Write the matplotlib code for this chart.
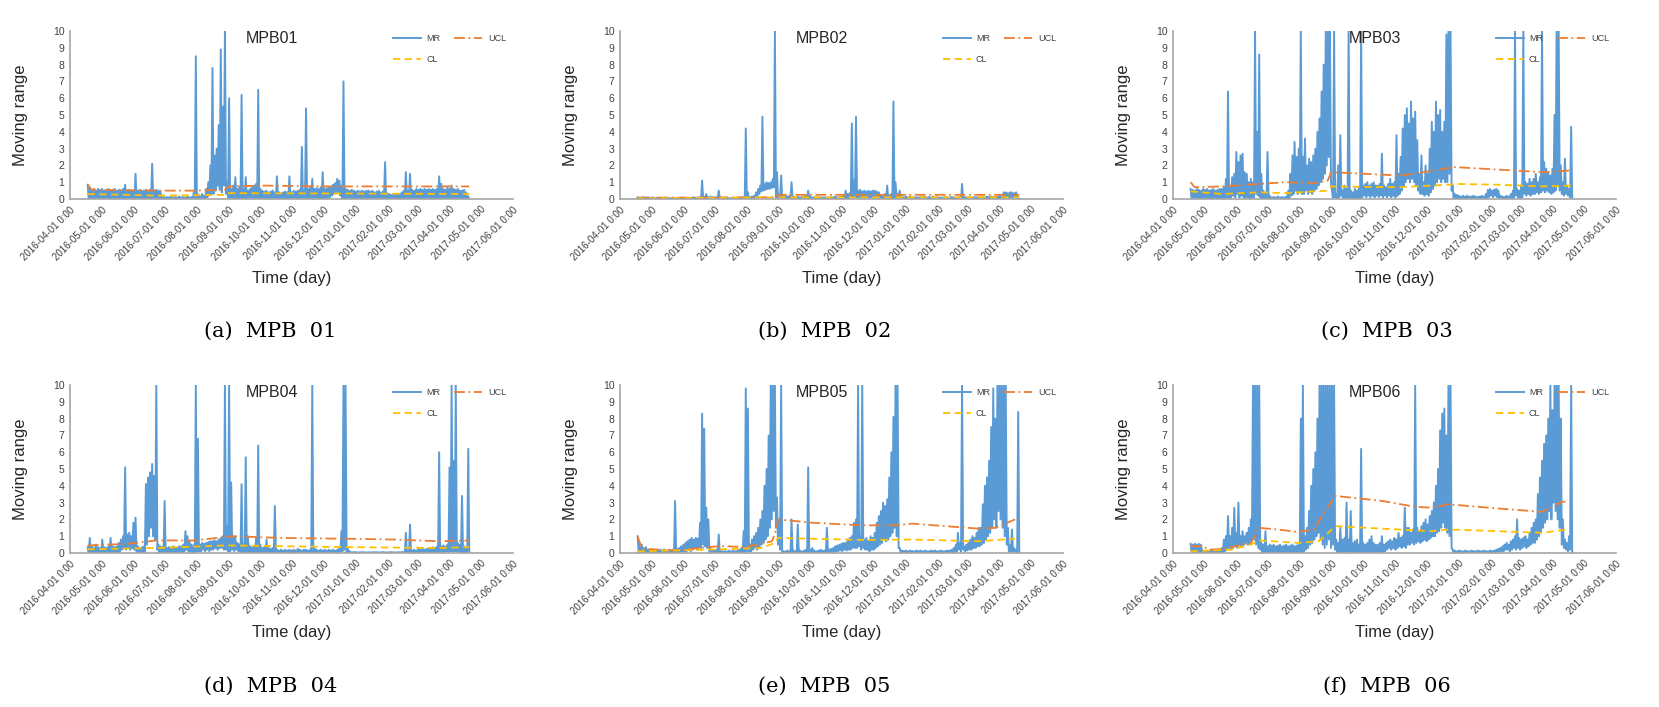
import numpy as np
import matplotlib
matplotlib.use('Agg')
import matplotlib.pyplot as plt

plt.rcParams['font.family'] = ['Liberation Sans', 'DejaVu Sans']

# x axis: month starts, Excel style labels
month_starts = ['2016-04-01', '2016-05-01', '2016-06-01', '2016-07-01', '2016-08-01',
                '2016-09-01', '2016-10-01', '2016-11-01', '2016-12-01', '2017-01-01',
                '2017-02-01', '2017-03-01', '2017-04-01', '2017-05-01', '2017-06-01']
tick_labels = [d + ' 0:00' for d in month_starts]

# MR read in 2-day bins from 2016-04-18: upper value of the bin, then lower value
mr_start = '2016-04-18'

mr_hi_a = [0.85,0.6,0.55,0.6,0.5,0.6,0.55,0.6,0.5,0.55,0.6,0.5,0.55,0.6,0.5,
           0.55,0.5,0.6,0.85,0.5,0.55,0.5,0.5,1.5,0.5,0.55,0.5,0.5,0.55,0.5,
           0.55,2.1,0.5,0.55,0.5,0.45,0.15,0.1,0.12,0.1,0.15,0.1,0.12,0.1,0.15,
           0.1,0.12,0.1,0.15,0.1,0.12,0.4,8.5,0.3,0.15,0.3,0.2,0.6,1.0,2.0,
           7.8,2.6,3.0,4.4,8.9,5.5,10,1.0,6.0,0.6,0.8,1.3,0.6,0.7,6.2,
           0.6,1.3,0.5,0.6,0.7,0.8,0.9,6.5,0.6,0.5,0.45,0.5,0.4,0.45,0.5,
           0.4,1.35,0.4,0.35,0.4,0.45,0.4,1.35,0.4,0.5,0.45,0.5,0.55,3.1,0.5,
           5.4,0.6,0.7,1.2,0.6,0.65,0.6,0.7,1.6,0.6,0.65,0.7,0.75,0.85,0.95,
           1.2,1.1,0.8,7.0,0.6,0.55,0.5,0.55,0.5,0.45,0.5,0.45,0.5,0.45,0.5,
           0.5,0.45,0.5,0.4,0.45,0.5,0.4,0.45,2.2,0.35,0.3,0.25,0.3,0.25,0.3,
           0.3,0.4,0.5,1.6,0.5,1.5,0.55,0.5,0.6,0.55,0.6,0.55,0.6,0.55,0.6,
           0.55,0.6,0.55,0.6,1.35,0.9,0.6,0.55,0.7,0.6,0.8,0.6,0.55,0.6,0.5,
           0.5,0.55,0.4,0.15]
mr_lo_a = [0,0,0.05,0,0,0.05,0,0,0.05,0,0,0.05,0,0,0.05,
           0,0,0.05,0,0,0.05,0,0,0.05,0,0,0.05,0,0,0.05,
           0,0,0.05,0,0,0.02,0,0.02,0,0.02,0,0.02,0,0.02,0,
           0.02,0,0.02,0,0.02,0,0,0,0,0.02,0,0,0.1,0.2,0.3,
           0.3,0.5,0.8,0.6,0.4,0.8,0.3,0.1,0,0.05,0,0.05,0,0.05,0,
           0,0.05,0,0,0.05,0,0,0.05,0,0,0.05,0,0,0.05,0,
           0,0.05,0,0,0.05,0,0,0.05,0,0,0.05,0,0,0.05,0,
           0,0.05,0,0,0.05,0,0,0.05,0,0,0.05,0.1,0.2,0.3,0.4,
           0.4,0.2,0,0,0.05,0,0,0.05,0,0,0.05,0,0,0.05,0,
           0,0.05,0,0,0.05,0,0,0.05,0,0,0.02,0,0.02,0,0.02,
           0,0.02,0,0,0.05,0,0,0.05,0,0,0.05,0,0,0.05,0,
           0,0.05,0,0,0.05,0,0,0.05,0,0,0.05,0,0,0.05,0,
           0,0.05,0,0]

mr_hi_b = [0.1,0.08,0.1,0.12,0.08,0.1,0.08,0.1,0.05,0.08,0.05,0.06,0.05,0.08,0.05,
           0.06,0.05,0.08,0.05,0.06,0.05,0.05,0.08,0.05,0.06,0.05,0.08,0.1,0.08,0.1,
           0.1,1.1,0.15,0.3,0.1,0.15,0.1,0.12,0.1,0.5,0.1,0.05,0.05,0.08,0.05,
           0.05,0.08,0.06,0.1,0.08,0.1,0.12,4.2,0.4,0.1,0.15,0.2,0.4,0.6,0.8,
           4.9,0.9,1.0,0.95,1.0,1.2,10,1.6,0.3,1.4,0.15,0.2,0.15,0.2,1.0,
           0.15,0.1,0.15,0.1,0.12,0.15,0.2,0.5,0.15,0.1,0.12,0.1,0.12,0.1,0.1,
           0.1,0.08,0.1,0.12,0.1,0.15,0.1,0.12,0.15,0.2,0.5,0.3,0.35,4.5,1.1,
           4.9,0.5,0.55,0.45,0.5,0.45,0.5,0.45,0.5,0.5,0.45,0.4,0.2,0.15,0.3,
           0.8,0.2,0.3,5.8,1.0,0.3,0.5,0.15,0.1,0.15,0.1,0.15,0.1,0.12,0.1,
           0.1,0.12,0.1,0.15,0.1,0.12,0.1,0.15,0.1,0.12,0.1,0.08,0.1,0.12,0.1,
           0.1,0.12,0.1,0.08,0.1,0.12,0.9,0.1,0.12,0.1,0.08,0.1,0.12,0.1,0.12,
           0.1,0.12,0.1,0.15,0.12,0.15,0.12,0.15,0.12,0.2,0.15,0.4,0.4,0.35,0.4,
           0.4,0.35,0.4,0.1]
mr_lo_b = [0,0.02,0,0.02,0,0.02,0,0.02,0,0.02,0,0.02,0,0.02,0,
           0,0.02,0,0.02,0,0.02,0,0.02,0,0.02,0,0.02,0,0.02,0,
           0,0.02,0,0.02,0,0.02,0,0.02,0,0.02,0,0.02,0,0.02,0,
           0,0.02,0,0.02,0,0.02,0,0,0,0.02,0,0.05,0.1,0.3,0.45,
           0.5,0.55,0.6,0.6,0.65,0.7,0.1,0.05,0,0.02,0,0.02,0,0.02,0,
           0,0.02,0,0.02,0,0.02,0,0.02,0,0.02,0,0.02,0,0.02,0,
           0,0.02,0,0.02,0,0.02,0,0.02,0,0.02,0,0.05,0.1,0.1,0.1,
           0.1,0.1,0.05,0.1,0.05,0.1,0.05,0.1,0.05,0.1,0.05,0.02,0,0.02,0,
           0,0.02,0,0,0.05,0,0.02,0,0.02,0,0.02,0,0.02,0,0.02,
           0,0.02,0,0.02,0,0.02,0,0.02,0,0.02,0,0.02,0,0.02,0,
           0,0.02,0,0.02,0,0.02,0,0.02,0,0.02,0,0.02,0,0.02,0,
           0,0.02,0,0.02,0,0.02,0,0.02,0,0.02,0,0.05,0.1,0.05,0.1,
           0.05,0.1,0.05,0]

mr_hi_c = [0.6,0.55,0.5,0.6,0.55,0.5,0.6,0.55,0.6,0.5,0.55,0.6,0.5,0.55,0.6,
           0.6,0.7,1.2,6.4,0.8,1.3,1.5,2.8,2.2,2.6,2.7,1.6,1.5,1.0,1.2,
           1.0,10,4.0,8.6,1.5,0.5,0.3,2.8,0.2,0.1,0.12,0.1,0.15,0.1,0.12,
           0.1,0.15,0.5,1.5,2.6,3.4,2.5,3.0,10,2.5,3.6,2.0,2.4,2.2,2.6,
           3.0,4.0,4.8,6.4,8.0,10,10,10,0.5,10,0.3,2.0,3.8,0.5,0.8,
           0.6,10,0.5,0.4,0.6,0.5,0.7,10,0.8,0.9,1.0,0.8,0.9,1.0,0.8,
           0.8,0.9,2.7,0.8,0.7,0.9,1.2,0.9,1.0,3.8,1.5,2.5,4.2,5.0,5.4,
           4.5,5.8,4.8,5.2,3.5,1.5,2.6,1.0,2.0,1.5,3.0,4.6,4.0,5.8,5.0,
           5.3,4.0,4.6,9.8,10,10,0.8,0.3,0.25,0.2,0.15,0.2,0.15,0.2,0.15,
           0.15,0.2,0.15,0.12,0.15,0.2,0.15,0.3,0.55,0.6,0.5,0.55,0.6,0.5,0.2,
           0.15,0.12,0.2,0.15,0.3,0.5,10,0.6,0.5,0.8,10,1.0,0.9,1.2,1.0,
           1.2,1.5,1.0,1.3,10,2.2,1.8,1.6,1.4,1.8,5.0,10,10,2.0,1.0,
           2.4,0.8,0.6,4.3]
mr_lo_c = [0,0.05,0,0.05,0,0.05,0,0.05,0,0.05,0,0.05,0,0.05,0,
           0,0.05,0.1,0,0.1,0.2,0.1,0.3,0.1,0.2,0.1,0.05,0.1,0,0.05,
           0.1,0.3,0.2,0.1,0,0.05,0,0,0,0.02,0,0.02,0,0.02,0,
           0,0.02,0,0.2,0.3,0.5,0.3,0.4,0.3,0.3,0.5,0.3,0.4,0.3,0.5,
           0.6,0.8,1.0,1.2,1.5,2.0,2.5,1.0,0,0.1,0,0.1,0.2,0,0.05,
           0,0.1,0,0.05,0,0.05,0,0.1,0.2,0.1,0.2,0.1,0.2,0.1,0.2,
           0.1,0.2,0.1,0.2,0.1,0.2,0.1,0.2,0.1,0.2,0.3,0.5,0.8,1.0,1.2,
           1.0,1.2,1.0,0.8,0.5,0.3,0.3,0.2,0.3,0.2,0.4,0.6,0.8,1.0,1.2,
           1.0,1.2,1.0,1.0,1.5,0.5,0,0.02,0,0.02,0,0.02,0,0.02,0,
           0,0.02,0,0.02,0,0.02,0,0.05,0.1,0.2,0.1,0.2,0.1,0.05,0,
           0,0.02,0,0.02,0,0.05,0.2,0.1,0.05,0.1,0.3,0.2,0.3,0.2,0.3,
           0.3,0.4,0.3,0.4,0.5,0.4,0.5,0.4,0.3,0.4,0.5,0.8,0.5,0.3,0.2,
           0.3,0.2,0.1,0]

mr_hi_d = [0.35,0.9,0.4,0.3,0.5,0.35,0.3,0.8,0.35,0.3,0.4,0.9,0.4,0.35,0.4,
           0.6,0.8,1.0,5.1,1.1,1.2,1.0,1.8,2.1,0.4,0.3,0.35,0.4,4.1,4.5,
           4.8,5.3,4.6,10,0.5,0.4,0.35,3.1,0.3,0.35,0.3,0.4,0.35,0.3,0.4,
           0.4,0.5,1.3,1.0,0.7,0.5,0.45,10,6.8,0.5,0.6,0.55,0.6,0.65,0.7,
           0.7,0.75,0.7,0.8,0.9,1.0,10,1.6,10,4.2,1.0,0.9,0.6,0.5,4.1,
           0.5,5.7,1.0,0.4,0.35,0.4,0.9,6.4,0.5,0.3,0.35,0.8,0.3,0.25,0.3,
           2.8,0.2,0.15,0.2,0.15,0.2,0.15,0.2,0.15,0.2,0.15,0.25,0.2,0.15,0.2,
           0.2,0.15,0.2,10,0.3,0.2,0.15,0.2,0.15,0.2,0.15,0.2,0.15,0.2,0.15,
           0.2,0.3,1.3,10,10,0.3,0.1,0.05,0.06,0.05,0.04,0.05,0.06,0.05,0.04,
           0.05,0.04,0.05,0.06,0.05,0.04,0.05,0.06,0.05,0.04,0.05,0.06,0.05,0.04,0.05,
           0.05,0.06,0.05,1.2,0.1,1.7,0.15,0.2,0.15,0.25,0.2,0.3,0.2,0.25,0.3,
           0.3,0.35,0.3,0.4,6.0,0.4,0.45,0.4,0.5,5.1,10,5.5,10,0.6,0.5,
           3.4,0.4,0.3,6.2]
mr_lo_d = [0,0.05,0,0.05,0,0.05,0,0.05,0,0.05,0,0.05,0,0.05,0,
           0.1,0.2,0.3,0.2,0.3,0.2,0.3,0.2,0.1,0,0.05,0,0.05,0.5,1.0,
           1.5,1.0,0.8,0.2,0,0.05,0,0.05,0,0.05,0,0.05,0,0.05,0,
           0,0.1,0.2,0.1,0.05,0,0,0.1,0.1,0.1,0.2,0.1,0.2,0.1,0.2,
           0.2,0.3,0.2,0.3,0.3,0.2,0.2,0.1,0.1,0.2,0.1,0.2,0.1,0.05,0,
           0,0.05,0,0.05,0,0.05,0,0.05,0,0.05,0,0.05,0,0.02,0,
           0,0.02,0,0.02,0,0.02,0,0.02,0,0.02,0,0.02,0,0.02,0,
           0,0.02,0,0,0,0.02,0,0.02,0,0.02,0,0.02,0,0.02,0,
           0,0.02,0.1,0.2,0,0.02,0,0.01,0,0.01,0,0.01,0,0.01,0,
           0,0.01,0,0.01,0,0.01,0,0.01,0,0.01,0,0.01,0,0.01,0,
           0,0.01,0,0,0,0,0,0.02,0,0.02,0,0.02,0,0.02,0,
           0,0.02,0,0.05,0,0.05,0,0.1,0.05,0.1,0.1,0.1,0.1,0.05,0,
           0,0.02,0,0]

mr_hi_e = [1.0,0.6,0.5,0.3,0.35,0.2,0.15,0.2,0.15,0.2,0.15,0.2,0.15,0.2,0.15,
           0.2,0.15,0.2,3.1,0.25,0.3,0.4,0.5,0.6,0.7,0.8,0.9,0.8,0.9,0.85,
           1.8,8.3,7.4,2.7,2.0,0.3,0.2,0.15,0.2,1.1,0.15,0.1,0.12,0.1,0.15,
           0.1,0.15,0.1,0.15,0.2,0.3,1.3,9.8,8.6,0.5,0.8,1.0,1.2,1.5,2.0,
           2.5,4.0,5.0,7.0,10,10,10,3.3,2.0,10,0.1,0.1,0.15,0.1,2.0,
           0.15,0.1,1.7,0.15,0.1,0.15,0.2,5.1,0.2,0.3,0.15,0.1,0.15,0.2,0.15,
           0.15,1.5,0.2,0.25,0.3,0.4,0.45,0.5,0.55,0.6,0.6,0.8,0.9,1.0,1.8,
           2.0,10,1.0,10,0.8,0.9,0.7,1.0,0.9,1.2,1.8,2.2,2.5,3.0,2.8,
           3.2,4.5,6.0,8.1,10,10,0.3,0.15,0.12,0.15,0.1,0.15,0.12,0.1,0.15,
           0.12,0.15,0.1,0.15,0.12,0.1,0.15,0.12,0.15,0.1,0.12,0.15,0.1,0.12,0.15,
           0.15,0.2,0.3,0.5,1.2,0.6,10,0.4,0.5,0.6,0.8,1.0,0.9,1.2,1.5,
           1.5,2.9,4.0,4.5,5.5,7.5,9.8,8.0,10,10,10,10,10,1.5,0.5,
           1.4,0.3,0.2,8.4]
mr_lo_e = [0,0.05,0,0.05,0,0.02,0,0.02,0,0.02,0,0.02,0,0.02,0,
           0,0.02,0,0,0.05,0,0.1,0.05,0.1,0.2,0.1,0.2,0.3,0.2,0.3,
           0.3,0.5,0.4,0.3,0.1,0,0.02,0,0.02,0,0.02,0,0.02,0,0.02,
           0,0.02,0,0.02,0,0.05,0,0.1,0.1,0.1,0.2,0.3,0.2,0.3,0.5,
           0.6,0.8,1.0,1.5,2.0,2.5,1.5,0.5,0.2,0,0,0.02,0,0.02,0,
           0,0.02,0,0.02,0,0.02,0,0.05,0,0.02,0,0.02,0,0.02,0,
           0,0.02,0,0.05,0.05,0.1,0.1,0.15,0.1,0.2,0.15,0.2,0.2,0.3,0.3,
           0.3,0.4,0.2,0.3,0.2,0.2,0.1,0.2,0.2,0.3,0.4,0.5,0.6,0.8,0.7,
           0.8,1.0,1.2,1.5,1.0,0.3,0,0.02,0,0.02,0,0.02,0,0.02,0,
           0,0.02,0,0.02,0,0.02,0,0.02,0,0.02,0,0.02,0,0.02,0,
           0,0.02,0.05,0.1,0.2,0.1,0.2,0.1,0.15,0.2,0.2,0.3,0.3,0.4,0.4,
           0.5,0.6,0.8,1.0,1.2,1.5,2.0,1.5,2.5,2.0,1.5,1.0,0.5,0.1,0,
           0.1,0,0,0]

mr_hi_f = [0.55,0.5,0.55,0.5,0.55,0.5,0.15,0.1,0.12,0.1,0.15,0.1,0.12,0.15,0.1,
           0.3,0.8,1.0,2.2,1.0,1.5,2.7,1.2,3.0,1.0,1.3,1.0,1.2,1.5,2.0,
           10,10,10,10,0.6,0.5,1.3,0.4,0.5,0.45,0.5,0.4,0.45,0.5,0.4,
           0.45,0.5,0.4,0.45,0.5,0.4,0.45,0.5,8.0,10,1.0,1.5,2.5,4.0,5.0,
           6.0,8.0,10,10,10,10,10,10,10,10,0.8,0.6,1.5,0.8,0.9,
           3.0,0.8,2.5,0.6,0.7,0.8,0.5,6.2,0.6,0.5,0.6,0.8,1.0,0.6,0.5,
           0.5,0.6,1.0,0.5,0.6,0.7,0.8,0.7,0.9,0.8,1.2,0.9,1.0,2.7,1.5,
           1.5,1.2,1.4,10,1.5,1.3,1.6,1.8,2.0,1.7,2.2,2.5,3.0,4.0,5.0,
           7.3,8.3,8.6,7.0,10,10,0.2,0.15,0.1,0.15,0.12,0.1,0.15,0.12,0.1,
           0.15,0.12,0.1,0.15,0.12,0.1,0.15,0.12,0.1,0.15,0.12,0.15,0.2,0.25,0.3,
           0.4,0.5,0.6,0.5,0.7,0.8,1.0,2.0,0.9,0.8,0.9,1.0,0.8,1.2,1.5,
           1.8,2.0,3.5,4.5,5.5,6.5,7.0,8.0,10,8.5,10,10,10,8.0,2.0,
           0.8,0.6,1.0,10]
mr_lo_f = [0,0.05,0,0.05,0,0.05,0,0.02,0,0.02,0,0.02,0,0.02,0,
           0,0.1,0.2,0.3,0.2,0.3,0.4,0.3,0.5,0.4,0.5,0.6,0.5,0.6,0.8,
           0.8,0.5,0.3,0.2,0,0.05,0,0.05,0,0.05,0,0.05,0,0.05,0,
           0,0.05,0,0.05,0,0.05,0,0.05,0,0.1,0.2,0.3,0.5,0.6,0.8,
           1.0,1.2,0.8,0.5,0.3,0.5,0.8,0.3,0.5,0.2,0,0.05,0,0.05,0,
           0.1,0,0.1,0,0.05,0,0.05,0,0.05,0,0.05,0,0.05,0,0.05,
           0,0.1,0,0.1,0.2,0.3,0.2,0.3,0.2,0.3,0.4,0.3,0.4,0.3,0.5,
           0.5,0.6,0.5,0.6,0.7,0.6,0.7,0.8,0.7,0.8,0.9,1.0,1.0,1.2,1.3,
           1.5,1.8,1.5,1.2,1.0,0.3,0,0.02,0,0.02,0,0.02,0,0.02,0,
           0,0.02,0,0.02,0,0.02,0,0.02,0,0.02,0,0.05,0.05,0.1,0.1,
           0.1,0.2,0.2,0.1,0.2,0.3,0.2,0.3,0.2,0.3,0.4,0.3,0.4,0.5,0.6,
           0.6,0.8,1.0,1.2,1.5,1.8,2.0,2.5,2.0,3.0,2.5,2.0,1.5,0.5,0.3,
           0.2,0.1,0.2,0]

# control limits (UCL dash-dot, CL dashed)
ucl_dates_a = ['2016-04-18', '2016-04-22', '2016-06-28', '2016-07-30', '2016-08-28', '2016-08-31',
               '2016-10-03', '2016-12-06', '2017-01-23', '2017-03-22', '2017-04-20']
ucl_a = [0.85, 0.55, 0.5, 0.5, 0.55, 0.75, 0.8, 0.75, 0.75, 0.75, 0.75]
cl_dates_a = ['2016-04-18', '2016-06-28', '2016-08-28', '2016-08-31', '2016-12-06', '2017-04-20']
cl_a = [0.3, 0.2, 0.25, 0.35, 0.33, 0.3]

ucl_dates_b = ['2016-04-18', '2016-08-28', '2016-08-31', '2017-04-20']
ucl_b = [0.08, 0.1, 0.25, 0.25]
cl_dates_b = ['2016-04-18', '2016-08-31', '2017-04-20']
cl_b = [0.04, 0.1, 0.1]

ucl_dates_c = ['2016-04-18', '2016-04-22', '2016-05-19', '2016-06-23', '2016-07-18', '2016-08-15',
               '2016-08-28', '2016-08-31', '2016-10-03', '2016-11-04', '2016-11-23', '2016-12-22',
               '2016-12-28', '2017-02-08', '2017-03-22', '2017-04-20']
ucl_c = [1.0, 0.7, 0.75, 0.9, 1.0, 0.95, 1.1, 1.6, 1.5, 1.4, 1.55, 1.85, 1.9, 1.75, 1.6, 1.7]
cl_dates_c = ['2016-04-18', '2016-05-19', '2016-06-23', '2016-07-18', '2016-08-28', '2016-08-31',
              '2016-11-04', '2016-12-22', '2016-12-28', '2017-02-08', '2017-03-22', '2017-04-20']
cl_c = [0.45, 0.3, 0.4, 0.35, 0.5, 0.75, 0.7, 0.85, 0.9, 0.85, 0.75, 0.8]

ucl_dates_d = ['2016-04-18', '2016-05-27', '2016-06-23', '2016-07-30', '2016-08-28', '2016-09-04',
               '2016-10-19', '2016-12-22', '2017-02-08', '2017-03-22', '2017-04-20']
ucl_d = [0.45, 0.55, 0.75, 0.75, 0.95, 1.0, 0.9, 0.85, 0.8, 0.7, 0.75]
cl_dates_d = ['2016-04-18', '2016-06-23', '2016-08-28', '2016-09-04', '2016-12-22', '2017-03-22', '2017-04-20']
cl_d = [0.22, 0.3, 0.45, 0.45, 0.35, 0.3, 0.35]

ucl_dates_e = ['2016-04-18', '2016-04-22', '2016-05-27', '2016-06-23', '2016-07-05', '2016-07-13',
               '2016-07-30', '2016-08-15', '2016-08-25', '2016-08-28', '2016-08-31', '2016-10-03',
               '2016-11-20', '2016-12-22', '2017-01-07', '2017-03-12', '2017-03-28', '2017-04-16']
ucl_e = [1.0, 0.25, 0.15, 0.35, 0.4, 0.4, 0.35, 0.55, 0.7, 1.1, 2.0, 1.8,
         1.65, 1.65, 1.75, 1.45, 1.5, 2.0]
cl_dates_e = ['2016-04-18', '2016-06-23', '2016-08-15', '2016-08-28', '2016-08-31', '2016-11-20',
              '2017-01-07', '2017-03-12', '2017-04-16']
cl_e = [0.1, 0.2, 0.3, 0.6, 0.9, 0.78, 0.8, 0.7, 0.85]

ucl_dates_f = ['2016-04-18', '2016-04-28', '2016-05-08', '2016-05-19', '2016-05-27', '2016-06-15',
               '2016-06-23', '2016-07-18', '2016-07-30', '2016-08-15', '2016-08-22', '2016-08-31',
               '2016-09-04', '2016-10-19', '2016-11-20', '2016-12-06', '2016-12-22', '2017-02-08',
               '2017-03-22', '2017-04-10', '2017-04-16']
ucl_f = [0.4, 0.4, 0.2, 0.25, 0.35, 0.6, 1.5, 1.35, 1.25, 1.4, 2.2, 3.0, 3.4, 3.1,
         2.75, 2.7, 2.9, 2.65, 2.45, 3.05, 3.05]
cl_dates_f = ['2016-04-18', '2016-05-27', '2016-06-15', '2016-06-23', '2016-07-30', '2016-08-19',
              '2016-08-25', '2016-09-04', '2016-11-04', '2016-12-06', '2016-12-22', '2017-02-08',
              '2017-03-22', '2017-04-16']
cl_f = [0.1, 0.2, 0.5, 0.75, 0.6, 0.7, 1.0, 1.6, 1.4, 1.3, 1.4, 1.3, 1.2, 1.4]

titles = ['MPB01', 'MPB02', 'MPB03', 'MPB04', 'MPB05', 'MPB06']
captions = ['(a)  MPB  01', '(b)  MPB  02', '(c)  MPB  03',
            '(d)  MPB  04', '(e)  MPB  05', '(f)  MPB  06']

panels = [
    (mr_hi_a, mr_lo_a, ucl_dates_a, ucl_a, cl_dates_a, cl_a),
    (mr_hi_b, mr_lo_b, ucl_dates_b, ucl_b, cl_dates_b, cl_b),
    (mr_hi_c, mr_lo_c, ucl_dates_c, ucl_c, cl_dates_c, cl_c),
    (mr_hi_d, mr_lo_d, ucl_dates_d, ucl_d, cl_dates_d, cl_d),
    (mr_hi_e, mr_lo_e, ucl_dates_e, ucl_e, cl_dates_e, cl_e),
    (mr_hi_f, mr_lo_f, ucl_dates_f, ucl_f, cl_dates_f, cl_f),
]

MR_COLOR = '#5B9BD5'
UCL_COLOR = '#ED7D31'
CL_COLOR = '#FFC000'

fig = plt.figure(figsize=(16.59, 7.07), dpi=100)

lefts = [0.0422, 0.3737, 0.707]
bottoms = [0.7185, 0.2178]
cap_x = [0.163, 0.497, 0.836]
cap_y = [0.532, 0.030]
w, h = 0.267, 0.2376

tick_dates = np.array(month_starts, dtype='datetime64[D]')

for k, (hi, lo, ud, uv, cd, cv) in enumerate(panels):
    row, col = divmod(k, 3)
    ax = fig.add_axes([lefts[col], bottoms[row], w, h])

    # hi at first day of each 2-day bin, lo on the second day
    bins = np.datetime64(mr_start) + np.arange(len(hi)) * 2
    xs = np.column_stack([bins, bins + 1]).ravel()
    ys = np.column_stack([hi, lo]).ravel()

    l_mr, = ax.plot(xs, ys, color=MR_COLOR, lw=1.4, label='MR')
    l_ucl, = ax.plot(np.array(ud, dtype='datetime64[D]'), uv, color=UCL_COLOR,
                     lw=1.3, ls=(0, (6, 2, 1, 2)), label='UCL')
    l_cl, = ax.plot(np.array(cd, dtype='datetime64[D]'), cv, color=CL_COLOR,
                    lw=1.3, ls=(0, (4, 2.5)), label='CL')

    ax.set_xlim(tick_dates[0], tick_dates[-1])
    ax.set_ylim(0, 10)
    ax.set_yticks(range(0, 11))
    ax.set_xticks(tick_dates)
    ax.set_xticklabels(tick_labels, rotation=45, ha='right', rotation_mode='anchor',
                       fontsize=7, color='#404040')
    ax.tick_params(axis='y', labelsize=7.5, labelcolor='#404040', length=0, pad=4)
    ax.tick_params(axis='x', length=0, pad=4)

    for s in ['top', 'right']:
        ax.spines[s].set_visible(False)
    for s in ['left', 'bottom']:
        ax.spines[s].set_color('#A6A6A6')
        ax.spines[s].set_linewidth(1.2)

    ax.set_ylabel('Moving range', fontsize=12, color='#262626')
    ax.yaxis.set_label_coords(-0.095, 0.5)
    ax.set_xlabel('Time (day)', fontsize=12, color='#262626')
    ax.xaxis.set_label_coords(0.5, -0.43)

    ax.text(0.455, 0.955, titles[k], transform=ax.transAxes, ha='center', va='center',
            fontsize=11.5, color='#262626')

    ax.legend([l_mr, l_cl, l_ucl], ['MR', 'CL', 'UCL'], ncol=2, loc='upper left',
              bbox_to_anchor=(0.71, 1.03), frameon=False, fontsize=6.5,
              handlelength=3.1, labelspacing=1.35, columnspacing=1.6, handletextpad=0.6,
              labelcolor='#404040')

    fig.text(cap_x[col], cap_y[row], captions[k], ha='center', va='center',
             fontsize=15, family=['DejaVu Serif'])

fig.savefig('out.png', dpi=100)
